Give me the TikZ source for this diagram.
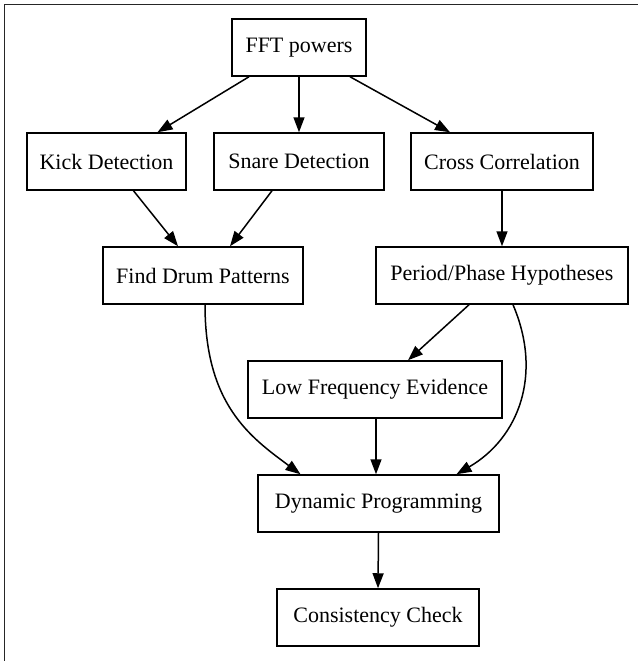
\documentclass[tikz,border=0pt]{standalone}
\usepackage{fontspec}
\setmainfont{Liberation Serif}
\usetikzlibrary{arrows.meta}
\begin{document}
\begin{tikzpicture}[x=1pt,y=-1pt,
  box/.style={draw, line width=1.5pt, minimum height=57pt, inner sep=0pt, font=\fontsize{22}{26}\selectfont},
  edge/.style={line width=1.5pt, -{Triangle[length=15pt,width=11pt]}}]
\useasboundingbox (0,0) rectangle (637,661);
\fill[white] (0,0) rectangle (637,661);
\draw[line width=1.5pt, black!85] (4.5,670) -- (4.5,4.5) -- (645,4.5);
\node[box, minimum width=134pt] (fft) at (299,47.5) {FFT powers};
\node[box, minimum width=159pt] (kick) at (106.5,161.5) {Kick Detection};
\node[box, minimum width=170pt] (snare) at (299,161.5) {Snare Detection};
\node[box, minimum width=182pt] (cross) at (502,161.5) {Cross Correlation};
\node[box, minimum width=200pt] (fdp) at (203,275.5) {Find Drum Patterns};
\node[box, minimum width=252pt] (pph) at (502,275.5) {Period/Phase Hypotheses};
\node[box, minimum width=254pt] (lfe) at (375,389.5) {Low Frequency Evidence};
\node[box, minimum width=241pt] (dp) at (378.5,503.5) {Dynamic Programming};
\node[box, minimum width=202pt] (cc) at (378,617.5) {Consistency Check};
\draw[edge] ([xshift=-50]fft.south) -- ([xshift=51]kick.north);
\draw[edge] (fft.south) -- (snare.north);
\draw[edge] ([xshift=51]fft.south) -- ([xshift=-52]cross.north);
\draw[edge] ([xshift=27]kick.south) -- ([xshift=-25]fdp.north);
\draw[edge] ([xshift=-27]snare.south) -- ([xshift=27]fdp.north);
\draw[edge] (cross.south) -- (pph.north);
\draw[edge] ([xshift=-33]pph.south) -- ([xshift=33]lfe.north);
\draw[edge] ([xshift=2]fdp.south) .. controls +(0,100) and +(-50,-37) .. ([xshift=-78]dp.north);
\draw[edge] ([xshift=11]pph.south) .. controls +(30,70) and +(62,-36) .. ([xshift=78]dp.north);
\draw[edge] ([xshift=1]lfe.south) -- ([xshift=-2.5]dp.north);
\draw[edge] (dp.south) -- (cc.north);
\end{tikzpicture}
\end{document}
